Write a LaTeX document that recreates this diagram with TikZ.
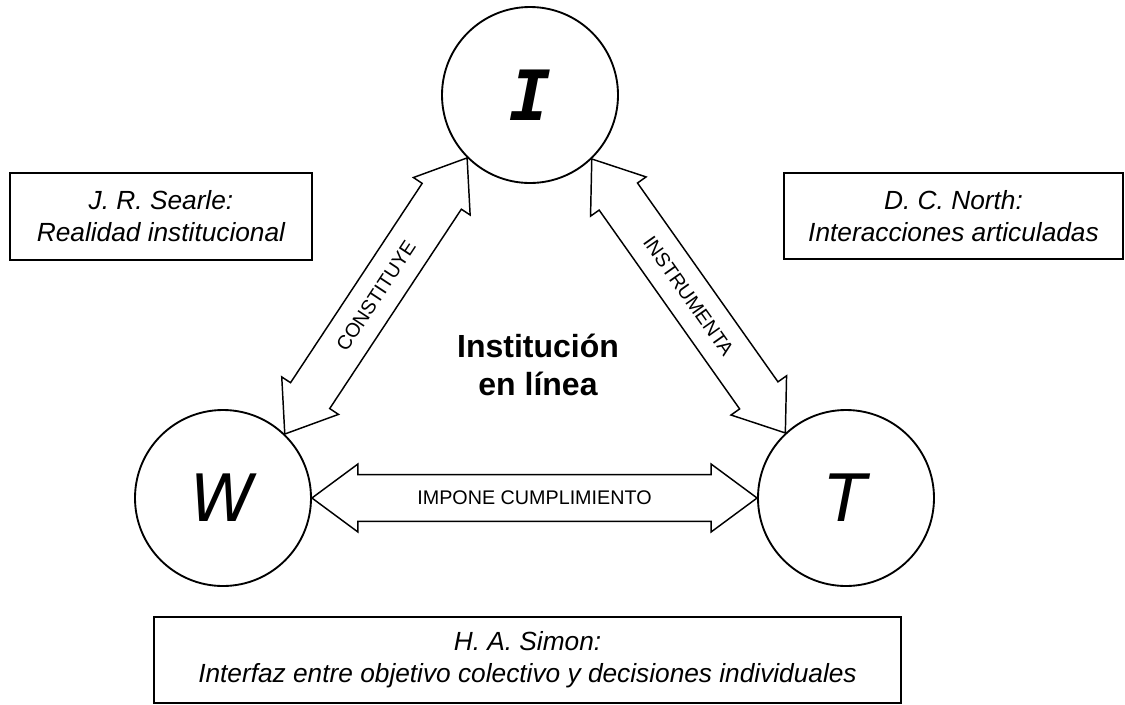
\documentclass[tikz,border=0pt]{standalone}
\usepackage{fontspec}
\setmainfont{Liberation Sans}
\newfontfamily\letterfont{DejaVu Sans}
\newfontfamily\letterfontI{DejaVu Sans Mono}
\usetikzlibrary{calc}

\tikzstyle{actor} = [circle, draw=black, line width=1.4pt, minimum size=132pt, inner sep=0pt, font=\letterfont\itshape\fontsize{49}{50}\selectfont]
\tikzstyle{author} = [rectangle, draw=black, line width=1.7pt, align=center, inner sep=0pt, font=\itshape\fontsize{19.7}{24}\selectfont]
\tikzstyle{bigarrow} = [draw=black, line width=1.1pt, line join=miter, fill=white]
\tikzstyle{arrowlabel} = [font=\fontsize{14.8}{16}\selectfont]

% double block arrow between two anchors
\newcommand{\dblarrow}[2]{%
  \draw [bigarrow] let \p1=(#1), \p2=(#2), \n1={atan2(\y2-\y1,\x2-\x1)}, \n2={veclen(\x2-\x1,\y2-\y1)} in
    [shift={(\p1)}, rotate=\n1]
    (0pt,0pt) -- (34.5pt,25.5pt) -- (34.5pt,17.6pt) -- (\n2-34.5pt,17.6pt) -- (\n2-34.5pt,25.5pt)
    -- (\n2,0pt) -- (\n2-34.5pt,-25.5pt) -- (\n2-34.5pt,-17.6pt) -- (34.5pt,-17.6pt) -- (34.5pt,-25.5pt) -- cycle;
}

\begin{document}
\begin{tikzpicture}[x=0.75pt, y=-0.75pt]

\fill[white] (0,0) rectangle (1125,704);
\useasboundingbox (0,0) rectangle (1125,704);

\node (I) [actor, font=\letterfontI\bfseries\itshape\fontsize{52}{54}\selectfont] at (530,95) {I};
\node (W) [actor] at (223,498) {W};
\node (T) [actor] at (846,498) {T};

\node (online) [font=\bfseries\fontsize{24}{29}\selectfont, align=center] at (538,365) {Institución\\en línea};

\node (searle) [author, minimum width=226.5pt, minimum height=65pt] at (161,216.5) {J. R. Searle:\\Realidad institucional};
\node (north) [author, minimum width=254pt, minimum height=64.5pt] at (953.5,216) {D. C. North:\\Interacciones articuladas};
\node (simon) [author, minimum width=560pt, minimum height=64pt] at (527.5,660) {H. A. Simon:\\Interfaz entre objetivo colectivo y decisiones individuales};

\dblarrow{I.225}{W.46}
\dblarrow{I.-46}{T.133}
\dblarrow{W.east}{T.west}

\path (I.225) -- node[arrowlabel, sloped] {CONSTITUYE} (W.46);
\path (I.-46) -- node[arrowlabel, sloped] {INSTRUMENTA} (T.133);
\path (W.east) -- node[arrowlabel] {IMPONE CUMPLIMIENTO} (T.west);

\end{tikzpicture}
\end{document}
